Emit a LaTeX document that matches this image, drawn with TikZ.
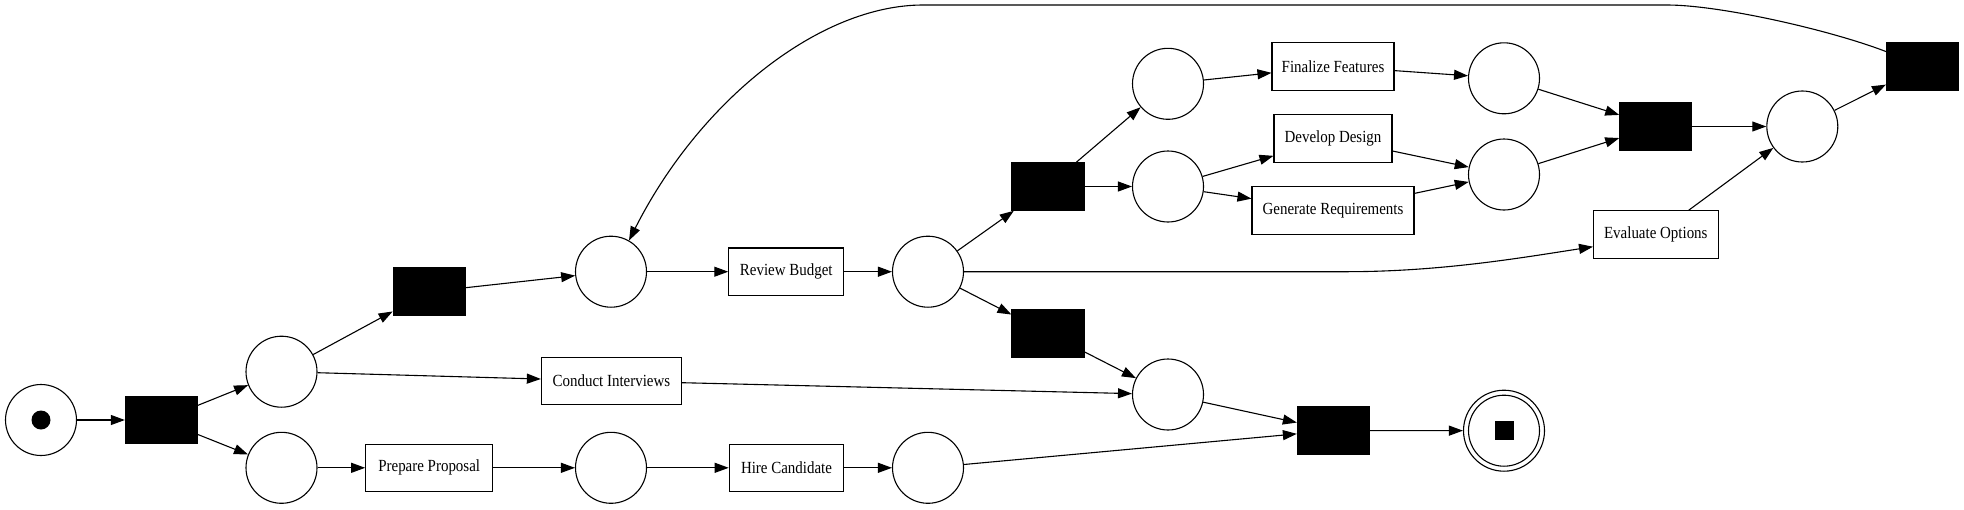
\documentclass[tikz,border=0pt]{standalone}
\usepackage{fontspec}
\setmainfont{Liberation Serif}[FakeStretch=0.88]
\usetikzlibrary{arrows.meta}
\begin{document}
\begin{tikzpicture}[x=1pt,y=-1pt,
  place/.style={circle,draw,line width=1.1pt,minimum size=71pt,inner sep=0pt},
  trans/.style={rectangle,draw,fill=black,line width=1.1pt,minimum width=72pt,minimum height=47.5pt,inner sep=0pt},
  act/.style={rectangle,draw,line width=1.1pt,minimum height=47.5pt,inner sep=0pt,font=\fontsize{17}{20}\selectfont},
  arr/.style={-{Triangle[length=14pt,width=10pt]},line width=1.1pt}]
\useasboundingbox (0,0) rectangle (1964,509);
% places
\node[place] (start) at (41,420) {};
\fill (start.center) circle (9.5pt);
\node[place] (p1) at (281.5,371.7) {};
\node[place] (p2) at (281.5,467.8) {};
\node[place] (pPP) at (611,467.8) {};
\node[place] (pHC) at (928,467.8) {};
\node[place] (pRB) at (611,271.7) {};
\node[place] (pX) at (928,271.7) {};
\node[place] (pF) at (1168,83.8) {};
\node[place] (pD) at (1168,186.5) {};
\node[place] (pG) at (1168,394.5) {};
\node[place] (pFF) at (1504,78.3) {};
\node[place] (pDD) at (1504,174.5) {};
\node[place] (pE) at (1802.3,126.5) {};
\node[place,minimum size=81pt] (end) at (1504,430.7) {};
\draw[line width=1.1pt] (end.center) circle (35.5pt);
\fill ([shift={(-9.5,-9.5)}]end.center) rectangle ([shift={(9.5,9.5)}]end.center);
% transitions
\node[trans] (t1) at (161.4,420) {};
\node[trans] (t2) at (429.2,291.7) {};
\node[trans] (t3) at (1048,186.5) {};
\node[trans] (t6) at (1048,333.3) {};
\node[trans] (t7) at (1333.4,430.5) {};
\node[trans] (t4) at (1655.8,126.5) {};
\node[trans] (t5) at (1922.5,66.3) {};
% activities
\node[act,minimum width=140pt] (CI) at (611.4,381) {Conduct Interviews};
\node[act,minimum width=127pt] (PP) at (429.2,467.8) {Prepare Proposal};
\node[act,minimum width=114.5pt] (HC) at (786.5,467.8) {Hire Candidate};
\node[act,minimum width=115pt] (RB) at (786.3,271.7) {Review Budget};
\node[act,minimum width=122pt] (FF) at (1333,66.3) {Finalize Features};
\node[act,minimum width=118pt] (DD) at (1333,138.5) {Develop Design};
\node[act,minimum width=162pt] (GR) at (1333,210.5) {Generate Requirements};
\node[act,minimum width=124.5pt] (EO) at (1655.8,234.5) {Evaluate Options};
% connectors
\draw[arr] (start) -- (t1);
\draw[arr] (t1) -- (p1);
\draw[arr] (t1) -- (p2);
\draw[arr] (p1) -- (t2);
\draw[arr] (p1) -- (CI);
\draw[arr] (p2) -- (PP);
\draw[arr] (PP) -- (pPP);
\draw[arr] (pPP) -- (HC);
\draw[arr] (HC) -- (pHC);
\draw[arr] (pHC) -- (t7);
\draw[arr] (t2) -- (pRB);
\draw[arr] (pRB) -- (RB);
\draw[arr] (RB) -- (pX);
\draw[arr] (pX) -- (t3);
\draw[arr] (pX) -- (t6);
\draw[arr] (pX.east) -- (1346,271.7) .. controls (1440,271.7) and (1520,258) .. (EO.191);
\draw[arr] (t3) -- (pF);
\draw[arr] (t3) -- (pD);
\draw[arr] (pF) -- (FF);
\draw[arr] (pD) -- (DD);
\draw[arr] (pD) -- (GR);
\draw[arr] (FF) -- (pFF);
\draw[arr] (DD) -- (pDD);
\draw[arr] (GR) -- (pDD);
\draw[arr] (pFF) -- (t4);
\draw[arr] (pDD) -- (t4);
\draw[arr] (t4) -- (pE);
\draw[arr] (EO) -- (pE);
\draw[arr] (pE) -- (t5);
\draw[arr] (t5.158) .. controls (1830,30) and (1720,5) .. (1667,5) -- (923,5) .. controls (820,5) and (700,100) .. (pRB.60);
\draw[arr] (CI) -- (pG);
\draw[arr] (t6) -- (pG);
\draw[arr] (pG) -- (t7);
\draw[arr] (t7) -- (end);
\end{tikzpicture}
\end{document}
